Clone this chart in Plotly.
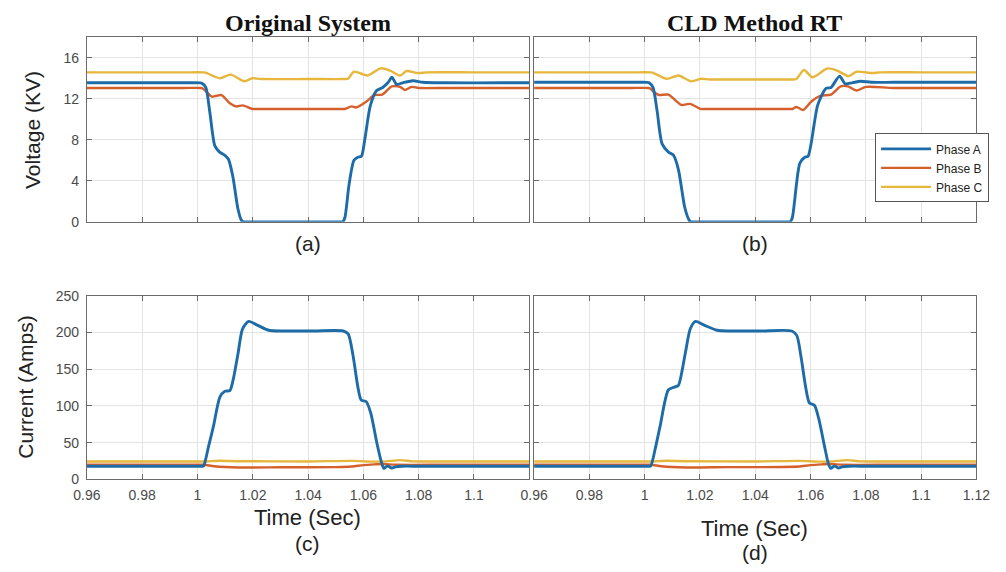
import plotly.graph_objects as go

# ---- Phase voltages (kV), original system ----
t_va_A = [0.96, 0.98, 0.995, 1.0010, 1.0016, 1.0030, 1.0045, 1.0063, 1.0080, 1.0098, 1.0112, 1.0128,
          1.0146, 1.0158, 1.0165, 1.0172, 1.03, 1.05, 1.0518, 1.0525, 1.0533, 1.0548, 1.0566, 1.0580,
          1.0593, 1.0605, 1.0625, 1.0648, 1.0670, 1.0690, 1.0703, 1.0720, 1.0742, 1.0780, 1.0815,
          1.09, 1.11, 1.12]
v_va_A = [13.55, 13.55, 13.55, 13.55, 13.5, 13.1, 10.6, 7.4, 6.8, 6.5, 6.1, 4.4,
          1.3, 0.2, 0.0, 0.0, 0.0, 0.0, 0.0, 0.0, 0.4, 3.6, 6.0, 6.3,
          6.4, 8.0, 11.3, 12.8, 13.1, 13.6, 14.1, 13.4, 13.55, 13.75, 13.6,
          13.55, 13.55, 13.55]
t_va_B = [0.96, 0.98, 0.995, 1.0012, 1.0019, 1.0035, 1.0052, 1.0087, 1.0117, 1.0140, 1.0163, 1.0199,
          1.0215, 1.04, 1.0520, 1.0533, 1.0557, 1.0574, 1.0610, 1.0639, 1.0668, 1.0703, 1.0733,
          1.0750, 1.0774, 1.0800, 1.09, 1.11, 1.12]
v_va_B = [13.05, 13.05, 13.05, 13.05, 13.0, 12.6, 12.2, 12.35, 11.55, 11.25, 11.35, 11.0,
          11.0, 11.0, 11.0, 11.0, 11.25, 11.15, 11.7, 12.35, 12.4, 13.2, 13.15,
          12.85, 13.15, 13.05, 13.05, 13.05, 13.05]
t_va_C = [0.96, 0.98, 0.995, 1.0020, 1.0029, 1.0081, 1.0120, 1.0169, 1.0199, 1.0230, 1.04, 1.0535,
          1.0545, 1.0566, 1.0615, 1.0662, 1.0697, 1.0733, 1.0756, 1.0797, 1.0830, 1.10, 1.12]
v_va_C = [14.57, 14.57, 14.57, 14.57, 14.55, 14.0, 14.35, 13.7, 14.0, 13.92, 13.92, 13.92,
          13.95, 14.64, 14.26, 14.96, 14.73, 14.26, 14.7, 14.5, 14.57, 14.57, 14.57]

# ---- Phase voltages (kV), CLD method RT ----
t_vb_A = [0.96, 0.98, 0.995, 1.0010, 1.0016, 1.0030, 1.0045, 1.0063, 1.0086, 1.0104, 1.0122, 1.0145,
          1.0160, 1.0166, 1.0173, 1.03, 1.05, 1.0519, 1.0526, 1.0534, 1.0561, 1.0579, 1.0591, 1.0626,
          1.0656, 1.0674, 1.0705, 1.0725, 1.0750, 1.0781, 1.0820, 1.09, 1.11, 1.12]
v_vb_A = [13.6, 13.6, 13.6, 13.6, 13.55, 13.1, 10.8, 7.6, 6.8, 6.5, 5.1, 1.4,
          0.2, 0.0, 0.0, 0.0, 0.0, 0.0, 0.0, 0.4, 5.7, 6.3, 6.4, 11.4,
          13.0, 13.1, 14.2, 13.46, 13.55, 13.7, 13.6, 13.6, 13.6, 13.6]
t_vb_B = [0.96, 0.98, 0.995, 1.0013, 1.0020, 1.0035, 1.0052, 1.0086, 1.0133, 1.0163, 1.0204, 1.0220,
          1.04, 1.0525, 1.0535, 1.0549, 1.0573, 1.0602, 1.0637, 1.0674, 1.0709, 1.0735, 1.0766,
          1.0801, 1.09, 1.11, 1.12]
v_vb_B = [13.05, 13.05, 13.05, 13.05, 13.0, 12.6, 12.36, 12.4, 11.4, 11.5, 11.0, 11.0,
          11.0, 11.0, 11.0, 11.2, 10.9, 11.7, 12.3, 12.4, 13.2, 13.2, 12.8,
          13.15, 13.05, 13.05, 13.05]
t_vb_C = [0.96, 0.98, 0.995, 1.0020, 1.0028, 1.0080, 1.0122, 1.0169, 1.0204, 1.0235, 1.04, 1.0540,
          1.0549, 1.0576, 1.0607, 1.0661, 1.0696, 1.0737, 1.0766, 1.0824, 1.0850, 1.10, 1.12]
v_vb_C = [14.57, 14.57, 14.57, 14.57, 14.55, 13.94, 14.26, 13.69, 13.94, 13.88, 13.88, 13.88,
          13.92, 14.8, 14.1, 14.95, 14.75, 14.2, 14.63, 14.5, 14.57, 14.57, 14.57]

# ---- Phase currents (A), original system ----
t_ia_A = [0.96, 0.98, 0.995, 1.0015, 1.0022, 1.0040, 1.0058, 1.0081, 1.0099, 1.0117, 1.0128, 1.0146,
          1.0163, 1.0185, 1.0216, 1.0257, 1.0310, 1.0420, 1.0527, 1.0545, 1.0562, 1.0580, 1.0592,
          1.0610, 1.0627, 1.0648, 1.0665, 1.0674, 1.0688, 1.0702, 1.0716, 1.0740, 1.0800, 1.10, 1.12]
i_ia_A = [18, 18, 18, 18, 18.5, 45, 73, 112, 120, 121, 134, 170,
          205, 215, 210, 203, 202, 202, 202, 198, 170, 126, 108,
          106, 90, 51, 24, 15, 18.5, 15.5, 17, 18, 18, 18, 18]
t_ia_B = [0.96, 0.98, 0.995, 1.0022, 1.0060, 1.0150, 1.0300, 1.0500, 1.0557, 1.0600, 1.0640, 1.0670,
          1.0720, 1.09, 1.12]
i_ia_B = [20, 20, 20, 20, 18, 16.3, 16.5, 16.8, 17.5, 19.5, 20.5, 21, 20, 20, 20]
t_ia_C = [0.96, 0.98, 0.995, 1.0022, 1.0080, 1.0150, 1.0400, 1.0560, 1.0630, 1.0680, 1.0733, 1.0780,
          1.09, 1.12]
i_ia_C = [24.5, 24.5, 24.5, 24.5, 25.5, 24.8, 24.5, 25.2, 24.2, 24.6, 26.3, 24.6, 24.5, 24.5]

# ---- Phase currents (A), CLD method RT ----
t_ib_A = [0.96, 0.98, 0.995, 1.0015, 1.0022, 1.0040, 1.0056, 1.0086, 1.0110, 1.0122, 1.0146, 1.0165,
          1.0184, 1.0215, 1.0262, 1.0310, 1.0420, 1.0532, 1.0550, 1.0565, 1.0583, 1.0596, 1.0614,
          1.0630, 1.0650, 1.0664, 1.0673, 1.0687, 1.0700, 1.0714, 1.0740, 1.0800, 1.10, 1.12]
i_ib_A = [18, 18, 18, 18, 18.5, 45, 73, 122, 126, 128, 170, 205,
          215, 210, 203, 202, 202, 202, 196, 168, 124, 104, 101,
          82, 46, 22, 15, 18.5, 15.5, 17, 18, 18, 18, 18]
t_ib_B = [0.96, 0.98, 0.995, 1.0022, 1.0060, 1.0150, 1.0300, 1.0500, 1.0557, 1.0600, 1.0640, 1.0670,
          1.0720, 1.09, 1.12]
i_ib_B = [20, 20, 20, 20, 18, 16.3, 16.7, 16.9, 17.5, 19.5, 20.5, 21, 20, 20, 20]
t_ib_C = [0.96, 0.98, 0.995, 1.0022, 1.0080, 1.0150, 1.0400, 1.0560, 1.0630, 1.0680, 1.0733, 1.0780,
          1.09, 1.12]
i_ib_C = [24.5, 24.5, 24.5, 24.5, 25.5, 24.8, 24.5, 25.2, 24.2, 24.6, 26.3, 24.6, 24.5, 24.5]

phase_names = ["Phase A", "Phase B", "Phase C"]
phase_colors = ["#1d6ca8", "#d5602c", "#e6b73c"]

x_tickvals = [0.96, 0.98, 1.0, 1.02, 1.04, 1.06, 1.08, 1.10, 1.12]
x_ticktext = ["0.96", "0.98", "1", "1.02", "1.04", "1.06", "1.08", "1.1", "1.12"]
v_tickvals = [0, 4, 8, 12, 16]
i_tickvals = [0, 50, 100, 150, 200, 250]

panel_titles = ["Original System", "CLD Method RT"]
panel_letters = ["(a)", "(b)", "(c)", "(d)"]
x_title = "Time (Sec)"
v_title = "Voltage (KV)"
i_title = "Current (Amps)"

W, H = 1006, 572


def px_x(p):
    return p / W


def px_y(p):
    return 1 - p / H


fig = go.Figure()

panels = [
    ("x", "y", [(t_va_A, v_va_A), (t_va_B, v_va_B), (t_va_C, v_va_C)], False),
    ("x2", "y2", [(t_vb_A, v_vb_A), (t_vb_B, v_vb_B), (t_vb_C, v_vb_C)], True),
    ("x3", "y3", [(t_ia_A, i_ia_A), (t_ia_B, i_ia_B), (t_ia_C, i_ia_C)], False),
    ("x4", "y4", [(t_ib_A, i_ib_A), (t_ib_B, i_ib_B), (t_ib_C, i_ib_C)], False),
]

for xa, ya, series, show_leg in panels:
    # draw C and B first so phase A sits on top; legendrank keeps A, B, C order
    for k in [2, 1, 0]:
        tx, vy = series[k]
        fig.add_trace(go.Scatter(
            x=tx, y=vy, xaxis=xa, yaxis=ya, mode="lines",
            name=phase_names[k], legendrank=k + 1,
            line=dict(color=phase_colors[k], width=2.9 if k == 0 else 2.4,
                      shape="spline", smoothing=0.7),
            showlegend=show_leg, hoverinfo="skip",
        ))

tick_font = dict(family="Liberation Sans, Arial, sans-serif", size=14, color="#4a4a4a")
common = dict(showline=True, linecolor="#6b6b6b", linewidth=1.2, mirror="ticks",
              ticks="inside", ticklen=5, tickcolor="#6b6b6b", tickwidth=1,
              showgrid=True, gridcolor="#e3e3e3", gridwidth=1, zeroline=False,
              tickfont=tick_font, fixedrange=True)

dom_left = [px_x(75), px_x(530)]
dom_right = [px_x(535), px_x(990)]
dom_top = [px_y(220), px_y(30)]
dom_bot = [px_y(485), px_y(296)]

fig.update_layout(
    xaxis=dict(domain=dom_left, anchor="y", range=[0.96, 1.12], tickvals=x_tickvals,
               ticktext=x_ticktext, showticklabels=False, **common),
    xaxis2=dict(domain=dom_right, anchor="y2", range=[0.96, 1.12], tickvals=x_tickvals,
                ticktext=x_ticktext, showticklabels=False, **common),
    xaxis3=dict(domain=dom_left, anchor="y3", range=[0.96, 1.12], tickvals=x_tickvals[:-1],
                ticktext=x_ticktext[:-1], showticklabels=True, ticklabelstandoff=3, **common),
    xaxis4=dict(domain=dom_right, anchor="y4", range=[0.96, 1.12], tickvals=x_tickvals,
                ticktext=x_ticktext, showticklabels=True, ticklabelstandoff=3, **common),
    yaxis=dict(domain=dom_top, anchor="x", range=[0, 18], tickvals=v_tickvals,
               ticklabelstandoff=4, **common),
    yaxis2=dict(domain=dom_top, anchor="x2", range=[0, 18], tickvals=v_tickvals,
                showticklabels=False, **common),
    yaxis3=dict(domain=dom_bot, anchor="x3", range=[0, 250], tickvals=i_tickvals,
                ticklabelstandoff=4, **common),
    yaxis4=dict(domain=dom_bot, anchor="x4", range=[0, 250], tickvals=i_tickvals,
                showticklabels=False, **common),
)

ann = []
sans = "Liberation Sans, Arial, sans-serif"
serif = "Liberation Serif, Times New Roman, serif"
ann.append(dict(text="<b>%s</b>" % panel_titles[0], x=px_x(302), y=px_y(15), font=dict(family=serif, size=24, color="#111")))
ann.append(dict(text="<b>%s</b>" % panel_titles[1], x=px_x(762), y=px_y(15), font=dict(family=serif, size=24, color="#111")))
ann.append(dict(text=panel_letters[0], x=px_x(302), y=px_y(242), font=dict(family=sans, size=21, color="#222")))
ann.append(dict(text=panel_letters[1], x=px_x(762), y=px_y(242), font=dict(family=sans, size=21, color="#222")))
ann.append(dict(text=x_title, x=px_x(302), y=px_y(524), font=dict(family=sans, size=22, color="#222")))
ann.append(dict(text=panel_letters[2], x=px_x(302), y=px_y(551), font=dict(family=sans, size=21, color="#222")))
ann.append(dict(text=x_title, x=px_x(762), y=px_y(535), font=dict(family=sans, size=22, color="#222")))
ann.append(dict(text=panel_letters[3], x=px_x(762), y=px_y(560), font=dict(family=sans, size=21, color="#222")))
ann.append(dict(text=v_title, x=px_x(19), y=px_y(125), textangle=-90, font=dict(family=sans, size=21, color="#222")))
ann.append(dict(text=i_title, x=px_x(11), y=px_y(390), textangle=-90, font=dict(family=sans, size=21, color="#222")))
for a in ann:
    a.update(xref="paper", yref="paper", xanchor="center", yanchor="middle", showarrow=False)

fig.update_layout(
    width=W, height=H, margin=dict(l=0, r=0, t=0, b=0),
    paper_bgcolor="white", plot_bgcolor="white",
    annotations=ann,
    legend=dict(x=px_x(1003), y=px_y(129), xanchor="right", yanchor="top",
                bgcolor="white", bordercolor="#555555", borderwidth=1,
                font=dict(family=sans, size=12, color="#222"),
                tracegroupgap=0, itemwidth=50),
    showlegend=True,
)

fig.write_html("out.html")
